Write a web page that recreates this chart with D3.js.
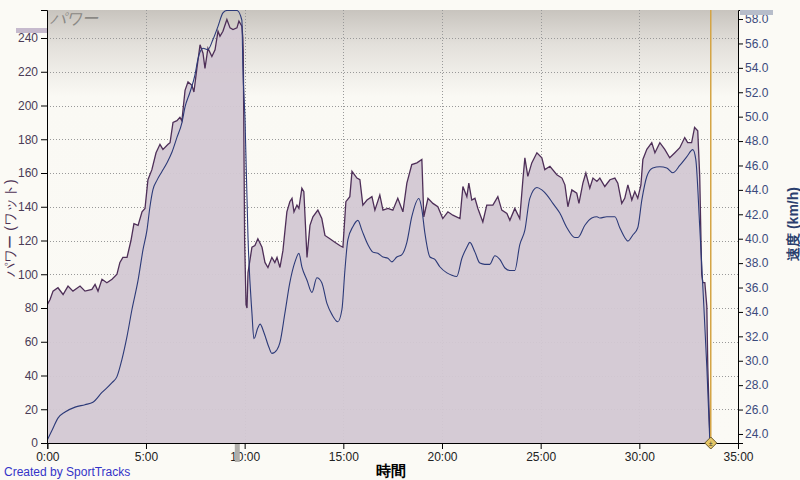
<!DOCTYPE html>
<html>
<head>
<meta charset="utf-8">
<script src="https://cdn.jsdelivr.net/npm/d3@7"></script>
<style>
  body { margin: 0; background: #fbfaf5; }
  svg { display: block; font-family: "Liberation Sans", "DejaVu Sans", sans-serif; }
</style>
</head>
<body>
<div id="chart"></div>
<script>
// temps (minutes) et puissance (watts)
const powerTime = [0,0.14,0.29,0.54,0.80,1.05,1.30,1.66,1.91,2.26,2.42,2.57,2.77,3.02,3.28,3.53,3.68,3.83,4.04,4.24,4.39,4.60,4.80,4.95,
  5.10,5.30,5.51,5.71,5.86,6.12,6.22,6.37,6.57,6.72,6.82,6.98,7.13,7.33,7.43,7.58,7.74,7.89,7.99,8.14,8.34,8.50,8.65,8.75,8.90,
  9.10,9.26,9.41,9.61,9.71,9.86,9.91,9.93,10.00,10.07,10.12,10.17,10.37,10.52,10.67,10.88,11.03,11.18,11.38,11.53,11.64,11.79,11.94,
  12.14,12.29,12.40,12.50,12.65,12.75,12.90,13.00,13.16,13.31,13.46,13.71,13.91,14.07,14.32,14.57,14.82,14.98,15.13,15.33,15.44,
  15.69,15.84,15.99,16.20,16.45,16.60,16.85,17.01,17.26,17.51,17.76,18.02,18.22,18.47,18.73,18.98,19.08,19.29,19.54,19.79,20.04,
  20.30,20.55,20.91,21.06,21.26,21.36,21.51,21.67,21.82,22.07,22.27,22.58,22.83,23.03,23.29,23.44,23.69,23.94,24.10,24.20,24.35,
  24.55,24.81,25.06,25.21,25.47,25.82,26.08,26.23,26.38,26.58,26.83,26.94,27.14,27.29,27.49,27.65,27.85,28.00,28.25,28.51,28.76,
  28.91,29.11,29.26,29.42,29.62,29.77,29.92,30.08,30.18,30.38,30.63,30.79,31.04,31.29,31.54,31.80,32.05,32.30,32.45,32.65,32.80,
  32.96,33.06,33.16,33.22,33.32,33.42,33.47,33.57,33.62];
const powerWatts = [82,85,90,92,88,93,90,93,90,91,94,90,97,95,97,100,107,110,110,120,130,129,137,139,
  156,162,172,177,174,177,178,190,191,193,191,209,214,212,208,222,236,231,222,234,229,233,244,241,244,
  251,246,245,246,250,247,240,232,120,82,80,101,116,117,121,116,107,104,110,107,110,104,114,
  137,143,145,137,141,139,151,149,110,129,134,138,133,123,121,119,117,116,143,146,161,
  157,156,141,144,146,138,147,138,139,138,145,137,154,165,166,168,134,145,142,140,133,
  137,135,133,152,146,154,144,145,139,131,141,141,146,138,136,132,139,133,156,169,158,
  166,172,169,162,164,159,157,153,140,150,148,142,154,160,151,157,155,157,152,156,157,
  154,142,145,153,144,149,145,153,168,174,178,172,178,174,169,172,175,181,178,178,187,
  185,158,100,95,95,81,45,6,0];

// temps (minutes) et vitesse (km/h)
const speedTime = [0,0.24,0.54,0.90,1.41,1.91,2.31,2.77,3.28,3.53,3.78,4.04,4.29,4.60,4.85,5.05,5.20,5.35,5.56,5.81,6.06,6.32,
  6.57,6.82,6.98,7.23,7.48,7.63,7.89,8.14,8.39,8.65,8.90,9.10,9.61,9.86,9.91,10.02,10.17,10.37,10.47,10.67,10.78,10.98,11.23,
  11.38,11.64,11.79,12.04,12.29,12.55,12.75,12.90,13.16,13.41,13.66,13.91,14.17,14.42,14.72,14.93,15.08,15.23,15.49,15.74,15.94,
  16.25,16.50,16.75,17.01,17.26,17.46,17.71,17.97,18.22,18.47,18.83,18.98,19.13,19.39,19.64,19.89,20.25,20.50,20.75,21.01,21.26,
  21.41,21.67,21.92,22.17,22.42,22.68,22.93,23.19,23.44,23.69,23.94,24.20,24.45,24.81,25.06,25.31,25.62,25.97,26.33,26.73,26.89,
  27.24,27.59,27.85,28.00,28.35,28.76,29.01,29.26,29.42,29.67,29.92,30.13,30.38,30.68,31.04,31.39,31.70,32.05,32.40,32.71,32.86,
  33.06,33.22,33.42,33.57];
const speedKmh = [23.5,24.3,25.3,25.8,26.2,26.4,26.6,27.4,28.2,28.7,30.1,32.0,34.2,36.6,39.1,40.7,42.6,44.0,44.8,45.5,46.2,47.1,
  48.3,49.5,50.8,52.0,53.4,54.7,55.6,55.5,56.3,57.4,58.5,58.7,58.7,57.9,54.1,49.7,40.1,33.9,31.8,32.7,33.0,32.3,31.1,
  30.6,30.9,31.5,33.9,36.4,38.1,38.8,37.7,36.6,35.6,36.8,36.4,34.7,33.8,33.2,34.2,37.4,39.9,41.0,41.5,40.7,
  39.5,38.9,38.8,38.5,38.4,38.1,38.5,38.7,39.7,41.8,43.3,42.4,40.5,38.5,38.3,37.7,37.2,37.0,36.9,38.4,39.3,
  39.7,38.9,38.0,37.9,37.9,38.6,38.3,37.6,37.4,37.4,39.5,40.7,43.3,44.2,44.0,43.6,42.9,42.1,40.9,40.1,40.1,
  41.1,41.7,41.8,41.7,41.8,41.8,40.9,40.1,39.8,40.3,40.9,43.2,45.1,45.8,45.9,45.8,45.4,46.0,46.7,47.3,46.5,
  41.0,36.0,29.5,23.5];

const powerTicks = [0,20,40,60,80,100,120,140,160,180,200,220,240];
const speedTicks = [24,26,28,30,32,34,36,38,40,42,44,46,48,50,52,54,56,58];
const timeTicks = [0,5,10,15,20,25,30,35];
const markerTime = 33.62;

//dimensions
const W = 800, H = 480;
const pLeft = 47, pRight = 738, pTop = 10, pBottom = 443;

const svg = d3.select("#chart")
  .append("svg")
  .attr("width", W)
  .attr("height", H);

//echelles
const x = d3.scaleLinear().domain([0, 35]).range([pLeft + 0.3, pRight]);
const yP = d3.scaleLinear().domain([0, 256.6]).range([pBottom, pTop]);
const yS = d3.scaleLinear().domain([23.26, 58.74]).range([pBottom, pTop]);

//fond degrade
const defs = svg.append("defs");
const grad = defs.append("linearGradient").attr("id", "bg").attr("x1", 0).attr("x2", 0).attr("y1", 0).attr("y2", 1);
grad.append("stop").attr("offset", "0%").attr("stop-color", "#c8c4be");
grad.append("stop").attr("offset", "8%").attr("stop-color", "#e3e0db");
grad.append("stop").attr("offset", "20%").attr("stop-color", "#faf9f4");
grad.append("stop").attr("offset", "100%").attr("stop-color", "#fbfaf5");
defs.append("clipPath").attr("id", "clip")
  .append("rect").attr("x", pLeft).attr("y", pTop).attr("width", pRight - pLeft).attr("height", pBottom - pTop);

svg.append("rect")
  .attr("x", pLeft).attr("y", pTop)
  .attr("width", pRight - pLeft).attr("height", pBottom - pTop)
  .attr("fill", "url(#bg)");

//grille
const grid = svg.append("g");
grid.selectAll(".hg").data(powerTicks.filter(d => d > 0)).enter()
  .append("line")
  .attr("x1", pLeft).attr("x2", pRight)
  .attr("y1", d => Math.round(yP(d)) + 0.5).attr("y2", d => Math.round(yP(d)) + 0.5)
  .attr("stroke", "#999").attr("stroke-dasharray", "1,2");
grid.selectAll(".vg").data(timeTicks.filter(d => d > 0 && d < 35)).enter()
  .append("line")
  .attr("y1", pTop).attr("y2", pBottom)
  .attr("x1", d => Math.round(x(d)) + 0.5).attr("x2", d => Math.round(x(d)) + 0.5)
  .attr("stroke", "#999").attr("stroke-dasharray", "1,2");

//donnees
const powerData = powerTime.map((t, i) => [t, powerWatts[i]]);
const speedData = speedTime.map((t, i) => [t, speedKmh[i]]);

const plot = svg.append("g").attr("clip-path", "url(#clip)");

plot.append("path")
  .datum(powerData)
  .attr("d", d3.area().x(d => x(d[0])).y0(pBottom).y1(d => yP(d[1])))
  .attr("fill", "#d3c8d3")
  .attr("fill-opacity", 0.95);

plot.append("path")
  .datum(powerData)
  .attr("d", d3.line().x(d => x(d[0])).y(d => yP(d[1])))
  .attr("fill", "none")
  .attr("stroke", "#4e2f58")
  .attr("stroke-width", 1.3);

plot.append("path")
  .datum(speedData)
  .attr("d", d3.line().curve(d3.curveMonotoneX).x(d => x(d[0])).y(d => yS(d[1])))
  .attr("fill", "none")
  .attr("stroke", "#2c3a78")
  .attr("stroke-width", 1.1);

//axes
const fmtTime = d => d + ":00";

const axL = svg.append("g")
  .attr("transform", `translate(${pLeft},0)`)
  .call(d3.axisLeft(yP).tickValues(powerTicks).tickSize(6).tickPadding(3));
axL.selectAll("text").attr("fill", "#4a3b55").style("font-size", "12px");

const axR = svg.append("g")
  .attr("transform", `translate(${pRight},0)`)
  .call(d3.axisRight(yS).tickValues(speedTicks).tickFormat(d3.format(".1f")).tickSize(5).tickPadding(2));
axR.selectAll("text").attr("fill", "#3b4a7c").style("font-size", "12px");

const axB = svg.append("g")
  .attr("transform", `translate(0,${pBottom})`)
  .call(d3.axisBottom(x).tickValues(timeTicks).tickFormat(fmtTime).tickSize(6).tickPadding(3));
axB.selectAll("text").attr("fill", "#222").style("font-size", "12px");

[axL, axR, axB].forEach(a => {
  a.select(".domain").attr("stroke", "#000");
  a.selectAll(".tick line").attr("stroke", "#000");
});

//curseur
svg.append("rect")
  .attr("x", x(9.5)).attr("y", pBottom + 1)
  .attr("width", 5).attr("height", 18)
  .attr("fill", "#b0aeaa");

svg.append("line")
  .attr("x1", x(markerTime)).attr("x2", x(markerTime))
  .attr("y1", pTop).attr("y2", pBottom)
  .attr("stroke", "#d4a444").attr("stroke-width", 1.5);

svg.append("path")
  .attr("transform", `translate(${x(markerTime)},${pBottom})`)
  .attr("d", "M0,-6L6,0L0,6L-6,0Z")
  .attr("fill", "#e6c766").attr("stroke", "#6a5a30").attr("stroke-width", 1);
svg.append("text")
  .attr("x", x(markerTime)).attr("y", pBottom + 3)
  .attr("text-anchor", "middle")
  .style("font-size", "7px")
  .attr("fill", "#333")
  .text("±");

//legendes
svg.append("rect").attr("x", 16).attr("y", 28).attr("width", 31).attr("height", 5).attr("fill", "#c6bacd");
svg.append("rect").attr("x", 740).attr("y", 10).attr("width", 33).attr("height", 5).attr("fill", "#b7bdca");

svg.append("text")
  .attr("x", 50).attr("y", 24)
  .style("font-size", "16px")
  .style("font-style", "italic")
  .attr("fill", "#8a8884")
  .text("パワー");

svg.append("text")
  .attr("transform", "translate(15,228) rotate(-90)")
  .attr("text-anchor", "middle")
  .style("font-size", "14px")
  .attr("fill", "#4f3356")
  .text("パワー (ワット)");

svg.append("text")
  .attr("transform", "translate(798,224) rotate(-90)")
  .attr("text-anchor", "middle")
  .style("font-size", "14px")
  .style("font-weight", "bold")
  .attr("fill", "#2b3f6e")
  .text("速度 (km/h)");

svg.append("text")
  .attr("x", 391).attr("y", 476)
  .attr("text-anchor", "middle")
  .style("font-size", "15px")
  .style("font-weight", "bold")
  .attr("fill", "#000")
  .text("時間");

svg.append("text")
  .attr("x", 4).attr("y", 476)
  .style("font-size", "12px")
  .attr("fill", "#3434c8")
  .text("Created by SportTracks");
</script>
</body>
</html>
